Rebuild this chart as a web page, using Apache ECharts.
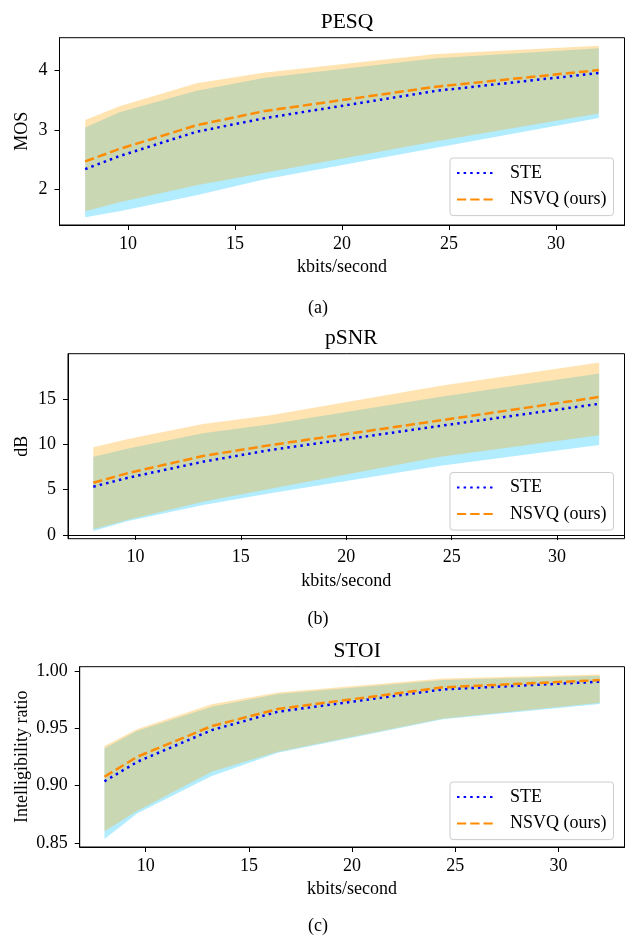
<!DOCTYPE html>
<html><head><meta charset="utf-8">
<script src="https://cdn.jsdelivr.net/npm/echarts@6/dist/echarts.min.js"></script>
<style>html,body{margin:0;padding:0;background:#fff}#c{width:625px;height:937px}</style>
</head><body><div id="c"></div>
<script>
// ---------- data ----------
const bitrates = [8, 9.6, 13.2, 16.4, 24.4, 32];
const xTicks = [10, 15, 20, 25, 30];
const seriesNames = ['STE', 'NSVQ (ours)'];

// PESQ (MOS)
const pesqSteMean  = [2.34, 2.56, 2.97, 3.20, 3.66, 3.96];
const pesqSteLow   = [1.53, 1.63, 1.90, 2.17, 2.70, 3.20];
const pesqSteHigh  = [3.04, 3.30, 3.66, 3.88, 4.21, 4.38];
const pesqNsvqMean = [2.47, 2.68, 3.08, 3.32, 3.73, 4.01];
const pesqNsvqLow  = [1.63, 1.78, 2.07, 2.28, 2.81, 3.28];
const pesqNsvqHigh = [3.17, 3.40, 3.79, 3.97, 4.28, 4.42];
const pesqTicks = [2, 3, 4];

// pSNR (dB)
const psnrSteMean  = [5.32, 6.28, 8.07, 9.36, 12.0, 14.45];
const psnrSteLow   = [0.44, 1.50, 3.30, 4.60, 7.60, 9.90];
const psnrSteHigh  = [8.63, 9.50, 11.2, 12.2, 15.2, 17.8];
const psnrNsvqMean = [5.76, 6.79, 8.70, 9.90, 12.6, 15.2];
const psnrNsvqLow  = [0.62, 1.65, 3.67, 5.10, 8.60, 11.0];
const psnrNsvqHigh = [9.66, 10.54, 12.22, 13.2, 16.4, 19.0];
const psnrTicks = [0, 5, 10, 15];

// STOI (intelligibility ratio)
const stoiSteMean  = [0.9038, 0.9209, 0.9485, 0.9645, 0.9840, 0.9907];
const stoiSteLow   = [0.8535, 0.8759, 0.9084, 0.9288, 0.9579, 0.9712];
const stoiSteHigh  = [0.9326, 0.9479, 0.9689, 0.9800, 0.9921, 0.9959];
const stoiNsvqMean = [0.9078, 0.9253, 0.9520, 0.9669, 0.9858, 0.9921];
const stoiNsvqLow  = [0.8602, 0.8782, 0.9122, 0.9296, 0.9587, 0.9724];
const stoiNsvqHigh = [0.9346, 0.9494, 0.9710, 0.9814, 0.9936, 0.9971];
const stoiTicks = [0.85, 0.90, 0.95, 1.00];

// ---------- layout ----------
const FONT = 'Liberation Serif';
const panels = [
  {title:'PESQ', yName:'MOS', caption:'(a)',
   ste:[pesqSteMean,pesqSteLow,pesqSteHigh], nsvq:[pesqNsvqMean,pesqNsvqLow,pesqNsvqHigh],
   yTicks:pesqTicks, yMin:1.398, yMax:4.556, dec:0,
   left:59.5, top:37.7, height:187.3, nameGapY:28.5, titleTop:6, legendTop:158, captionY:308},
  {title:'pSNR', yName:'dB', caption:'(b)',
   ste:[psnrSteMean,psnrSteLow,psnrSteHigh], nsvq:[psnrNsvqMean,psnrNsvqLow,psnrNsvqHigh],
   yTicks:psnrTicks, yMin:-0.41, yMax:19.97, dec:0,
   left:68, top:353.7, height:185, nameGapY:37, titleTop:322.5, legendTop:472.5, captionY:619},
  {title:'STOI', yName:'Intelligibility ratio', caption:'(c)',
   ste:[stoiSteMean,stoiSteLow,stoiSteHigh], nsvq:[stoiNsvqMean,stoiNsvqLow,stoiNsvqHigh],
   yTicks:stoiTicks, yMin:0.8465, yMax:1.0038, dec:2,
   left:79.7, top:666.7, height:180.3, nameGapY:48.7, titleTop:635, legendTop:782, captionY:926}
];

const pairs = a => bitrates.map((x, i) => [x, a[i]]);

const grid = [], xAxis = [], yAxis = [], series = [], title = [], legend = [], graphic = [];
const txt = {color:'#000', fontFamily:FONT, fontSize:18};

function bandSeries(i, lo, hi, fill) {
  return {type:'custom', xAxisIndex:i, yAxisIndex:i, silent:true, z:1, animation:false,
    data: bitrates.map((x, k) => [x, lo[k], hi[k]]),
    encode:{x:0, y:[1, 2]},
    renderItem: (params, api) => {
      if (params.dataIndex !== 0) return null;
      const upper = bitrates.map((x, k) => api.coord([x, hi[k]]));
      const lower = bitrates.map((x, k) => api.coord([x, lo[k]])).reverse();
      return {type:'polygon', shape:{points:upper.concat(lower)}, style:{fill:fill, stroke:null}};
    }};
}

panels.forEach((p, i) => {
  grid.push({left:p.left, right:0.5, top:p.top, height:p.height, show:true,
             borderColor:'#000', borderWidth:1, backgroundColor:'transparent'});
  xAxis.push({type:'value', gridIndex:i, min:6.8, max:33.2,
    name:'kbits/second', nameLocation:'middle', nameGap:33.5, nameMoveOverlap:false, nameTextStyle:txt,
    axisLine:{show:true, lineStyle:{color:'#000', width:1}},
    axisTick:{show:true, length:5, customValues:xTicks, lineStyle:{color:'#000'}},
    axisLabel:{...txt, margin:10, customValues:xTicks, formatter:v=>String(v)},
    splitLine:{show:false}});
  yAxis.push({type:'value', gridIndex:i, min:p.yMin, max:p.yMax,
    name:p.yName, nameLocation:'middle', nameRotate:90, nameGap:p.nameGapY, nameMoveOverlap:false, nameTextStyle:txt,
    axisLine:{show:true, lineStyle:{color:'#000', width:1}},
    axisTick:{show:true, length:5, customValues:p.yTicks, lineStyle:{color:'#000'}},
    axisLabel:{...txt, margin:12, customValues:p.yTicks, formatter:v=>Number(v).toFixed(p.dec)},
    splitLine:{show:false}});
  title.push({text:p.title, left:p.left + (624.5 - p.left)/2, top:p.titleTop, textAlign:'center',
    textStyle:{color:'#000', fontFamily:FONT, fontSize:21.5, fontWeight:'normal'}});

  series.push(bandSeries(i, p.ste[1], p.ste[2], 'rgba(0,191,255,0.3)'));
  series.push(bandSeries(i, p.nsvq[1], p.nsvq[2], 'rgba(255,165,0,0.3)'));
  series.push({name:'STE', type:'line', xAxisIndex:i, yAxisIndex:i, data:pairs(p.ste[0]),
    symbol:'none', z:3, color:'#0000ff', lineStyle:{color:'#0000ff', width:2.5, type:[2.5, 4.1], cap:'butt'}, animation:false});
  series.push({name:'NSVQ (ours)', type:'line', xAxisIndex:i, yAxisIndex:i, data:pairs(p.nsvq[0]),
    symbol:'none', z:4, color:'#ff8c00', lineStyle:{color:'#ff8c00', width:2.5, type:[9.25, 4], cap:'butt'}, animation:false});

  legend.push({data:seriesNames, orient:'vertical', left:450, top:p.legendTop,
    padding:[6, 7, 7, 6], itemGap:8.6, itemWidth:37, itemHeight:14,
    backgroundColor:'rgba(255,255,255,0.8)', borderColor:'#cccccc', borderWidth:1, borderRadius:3,
    selectedMode:false, itemStyle:{color:'transparent', borderWidth:0, opacity:0},
    textStyle:{...txt, padding:[0,0,0,11]}});

  graphic.push({type:'text', x:318, y:p.captionY,
    style:{text:p.caption, fill:'#000', font:'18px "Liberation Serif"', textAlign:'center', textVerticalAlign:'middle'}});
});

const chart = echarts.init(document.getElementById('c'), null, {renderer:'canvas'});
chart.setOption({animation:false, backgroundColor:'#fff', title, grid, xAxis, yAxis, series, legend, graphic});
</script>
</body></html>
